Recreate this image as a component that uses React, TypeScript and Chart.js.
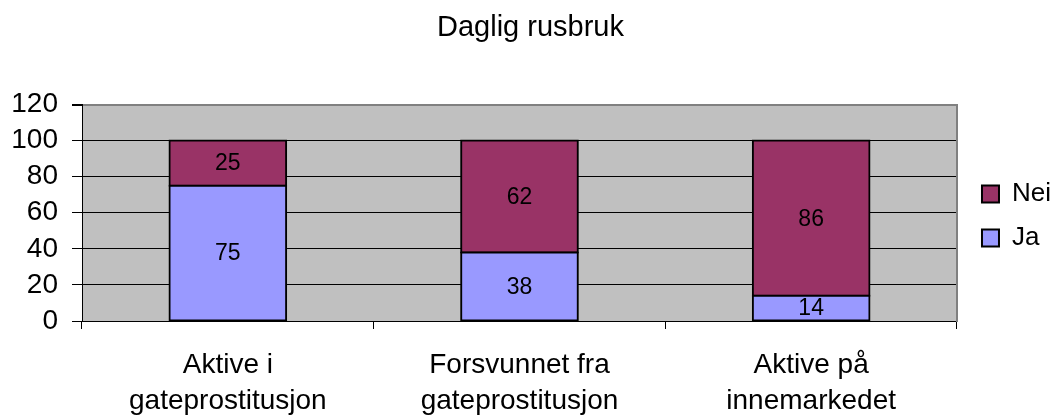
import React, { useEffect, useRef } from "react";
import { Chart, registerables } from "chart.js";

Chart.register(...registerables);

const title = "Daglig rusbruk";
const categories: string[][] = [
  ["Aktive i", "gateprostitusjon"],
  ["Forsvunnet fra", "gateprostitusjon"],
  ["Aktive på", "innemarkedet"],
];
const jaValues = [75, 38, 14];
const neiValues = [25, 62, 86];
const yTicks = [0, 20, 40, 60, 80, 100, 120];

const FONT = "'Liberation Sans', Arial, sans-serif";

const valueLabels = {
  id: "valueLabels",
  afterDatasetsDraw(chart: any) {
    const ctx = chart.ctx;
    ctx.save();
    ctx.font = `23px ${FONT}`;
    ctx.fillStyle = "#000";
    ctx.textAlign = "center";
    ctx.textBaseline = "middle";
    chart.data.datasets.forEach((ds: any, di: number) => {
      const meta = chart.getDatasetMeta(di);
      meta.data.forEach((bar: any, i: number) => {
        const { x, y, base } = bar.getProps(["x", "y", "base"], true);
        ctx.fillText(String(ds.data[i]), x, (y + base) / 2 + 1);
      });
    });
    ctx.restore();
  },
};

const plotBackground = {
  id: "plotBackground",
  beforeDraw(chart: any) {
    const { ctx, chartArea } = chart;
    ctx.save();
    ctx.fillStyle = "#C0C0C0";
    ctx.fillRect(chartArea.left, chartArea.top, chartArea.right - chartArea.left, chartArea.bottom - chartArea.top);
    ctx.restore();
  },
};

export default function App() {
  const ref = useRef<HTMLCanvasElement>(null);
  useEffect(() => {
    if (!ref.current) return;
    Chart.defaults.font.family = FONT;
    Chart.defaults.color = "#000";
    const barStyle = {
      borderColor: "#000",
      borderWidth: 2,
      borderSkipped: false,
      inflateAmount: 1,
      barPercentage: 0.4,
      categoryPercentage: 1,
    };
    const chart = new Chart(ref.current, {
      type: "bar",
      data: {
        labels: categories,
        datasets: [
          { label: "Ja", data: jaValues, backgroundColor: "#9999FF", ...barStyle },
          { label: "Nei", data: neiValues, backgroundColor: "#993366", ...barStyle },
        ],
      },
      options: {
        responsive: false,
        animation: false,
        devicePixelRatio: 1,
        layout: { padding: 0 },
        plugins: {
          title: {
            display: true,
            text: title,
            color: "#000",
            font: { size: 29, weight: "normal", family: FONT, lineHeight: 1.2 },
            padding: { top: 10.6, bottom: 59.1 },
          },
          legend: {
            position: "right",
            reverse: true,
            maxWidth: 99,
            title: {
              display: true,
              text: "",
              padding: 0,
              font: { size: 10, lineHeight: 1.6 },
            },
            labels: {
              boxWidth: 17,
              boxHeight: 17,
              padding: 18,
              color: "#000",
              font: { size: 26, family: FONT },
            },
          },
          tooltip: { enabled: false },
        },
        scales: {
          x: {
            stacked: true,
            offset: true,
            grid: {
              display: true,
              drawOnChartArea: false,
              drawTicks: true,
              tickLength: 8,
              color: "#000",
              offset: true,
            },
            border: { display: true, color: "#000", width: 1 },
            ticks: {
              color: "#000",
              padding: 18,
              maxRotation: 0,
              autoSkip: false,
              font: { size: 28, family: FONT, lineHeight: 1.3 },
            },
            afterFit: (s: any) => {
              s.height = 95;
            },
          },
          y: {
            stacked: true,
            min: 0,
            max: 120,
            afterBuildTicks: (s: any) => {
              s.ticks = yTicks.map((v) => ({ value: v }));
            },
            grid: {
              color: (c: any) => (c.tick && c.tick.value === 120 ? "#808080" : "#000"),
              lineWidth: (c: any) => (c.tick && c.tick.value === 120 ? 2 : 1),
              tickColor: "#000",
              tickLength: 10,
            },
            border: { display: true, color: "#000", width: 1 },
            ticks: {
              color: "#000",
              padding: 14,
              autoSkip: false,
              font: { size: 28, family: FONT },
            },
            afterFit: (s: any) => {
              s.width = 82;
            },
          },
          y2: {
            position: "right",
            display: true,
            grid: { display: false, drawTicks: false },
            ticks: { display: false },
            border: { display: true, color: "#808080", width: 2 },
            afterFit: (s: any) => {
              s.width = 7;
            },
          },
        },
      },
      plugins: [plotBackground, valueLabels],
    } as any);
    return () => chart.destroy();
  }, []);
  return (
    <canvas
      ref={ref}
      width={1061}
      height={416}
      style={{ position: "absolute", left: 0, top: 0, width: 1061, height: 416 }}
    />
  );
}
